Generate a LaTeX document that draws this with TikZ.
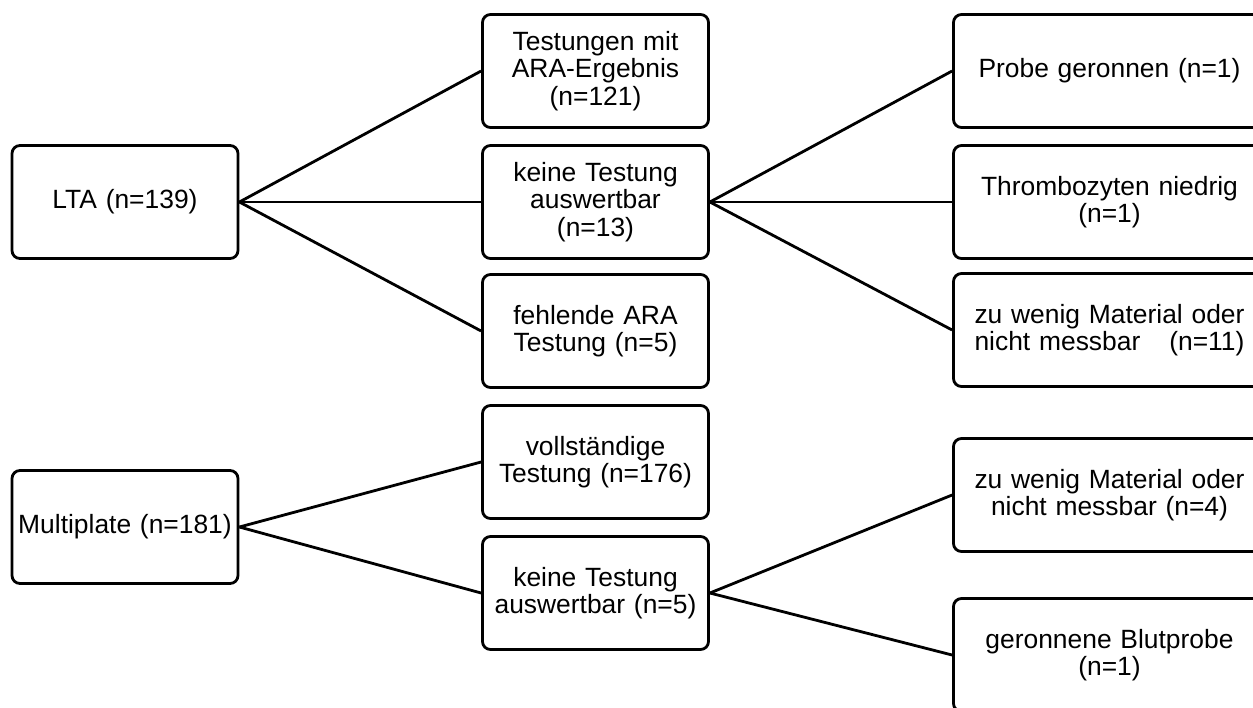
\documentclass[tikz,border=0pt]{standalone}
\usepackage{fontspec}
\setmainfont{Liberation Sans}
\usetikzlibrary{positioning}

\begin{document}
\begin{tikzpicture}[node distance=2cm,on grid,line width=1.4pt,
  box/.style={draw,rounded corners=4pt,align=center,minimum height=56.5pt,
    inner sep=1pt,font=\fontsize{13.2}{13.8}\selectfont},
  small/.style={box,text width=111pt},
  wide/.style={box,text width=154pt}]

  \useasboundingbox (0,0) rectangle (626.5pt,-353.5pt);
  \clip (0,0) rectangle (626.5pt,-353.5pt);

  % LTA
  \node[small]	(lta)	at (62.5pt,-101pt)	{LTA (n=139)};
  \node[small]	(lres)	[above right=65.5pt and 235.25pt of lta]	{Testungen mit\\ARA-Ergebnis\\(n=121)};
  \node[small]	(lnone)	[right=235.25pt of lta]	{keine Testung\\auswertbar\\(n=13)};
  \node[small]	(lmiss)	[below right=64.5pt and 235.25pt of lta]	{fehlende ARA\\Testung (n=5)};
  \node[wide]	(lclot)	[above right=65.5pt and 257pt of lnone]	{Probe geronnen (n=1)};
  \node[wide]	(lthr)	[right=257pt of lnone]	{Thrombozyten niedrig\\(n=1)};
  \node[wide]	(lmat)	[below right=64pt and 257pt of lnone]	{zu wenig Material oder\\nicht messbar\hspace{1.1em}(n=11)};

  % Multiplate
  \node[small]	(mp)	[below=162.5pt of lta]	{Multiplate (n=181)};
  \node[small]	(mfull)	[above right=32.5pt and 235.25pt of mp]	{vollst\"andige\\Testung (n=176)};
  \node[small]	(mnone)	[below right=33pt and 235.25pt of mp]	{keine Testung\\auswertbar (n=5)};
  \node[wide]	(mmat)	[above right=49pt and 257pt of mnone]	{zu wenig Material oder\\nicht messbar (n=4)};
  \node[wide]	(mclot)	[below right=31pt and 257pt of mnone]	{geronnene Blutprobe\\(n=1)};

  \draw
     (lta.east)	edge	(lres.west)
     (lta.east)	edge	(lnone.west)
     (lta.east)	edge	(lmiss.west)
     (lnone.east)	edge	(lclot.west)
     (lnone.east)	edge	(lthr.west)
     (lnone.east)	edge	(lmat.west)
     (mp.east)	edge	(mfull.west)
     (mp.east)	edge	(mnone.west)
     (mnone.east)	edge	(mmat.west)
     (mnone.east)	edge	(mclot.west)
  ;
\end{tikzpicture}
\end{document}
